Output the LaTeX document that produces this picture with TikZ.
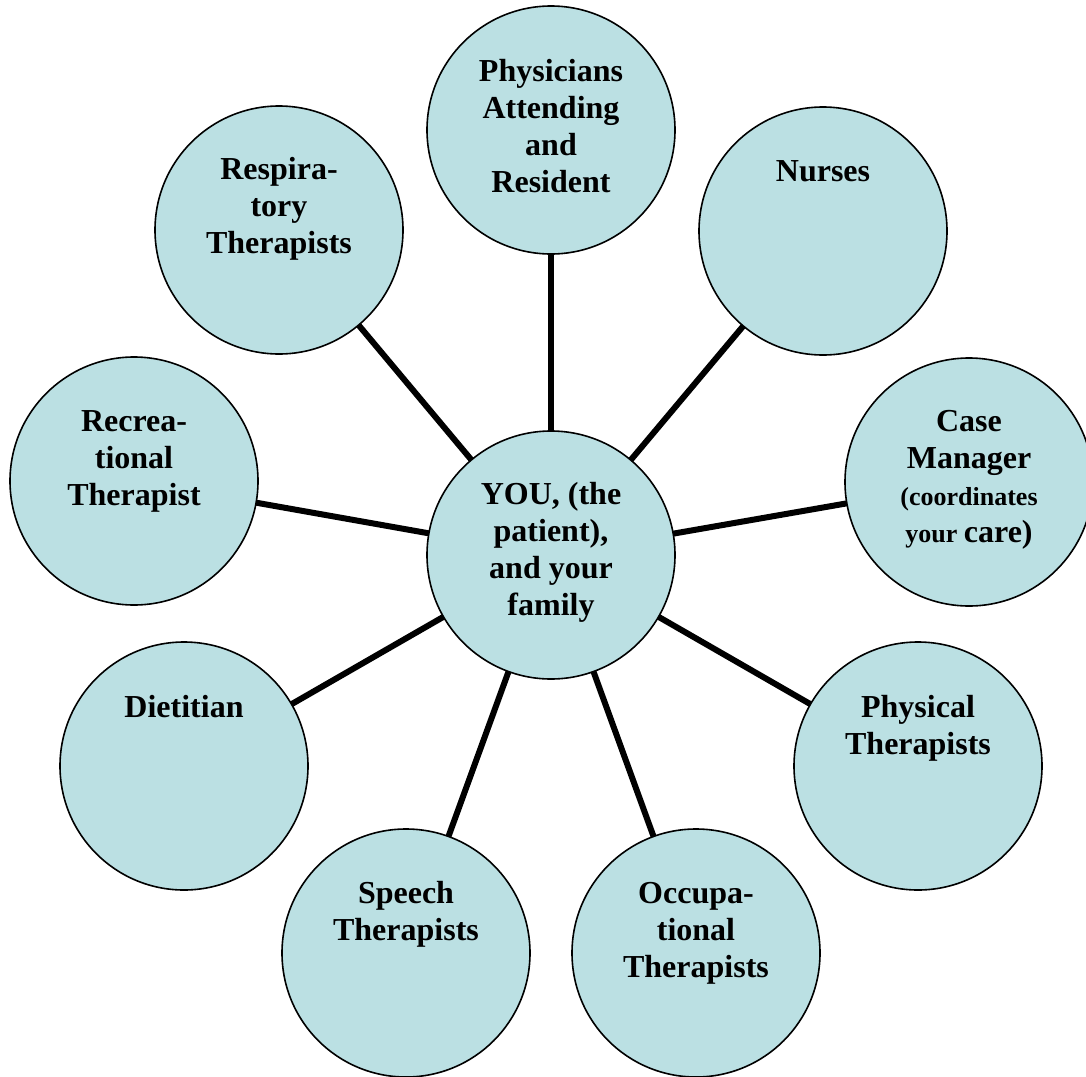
\documentclass[tikz,border=0pt]{standalone}
\usepackage{fontspec}
\setmainfont{Liberation Serif}
\usetikzlibrary{backgrounds}
\definecolor{bubble}{HTML}{BBE0E3}
\newcommand\smallpart{\fontsize{26}{37}\selectfont}
\newcommand\largepart{\fontsize{32}{37}\selectfont}
\begin{document}
\begin{tikzpicture}[x=1pt,y=-1pt,
  member/.style={circle, draw=black, line width=1.6pt, fill=bubble, minimum size=248pt, inner sep=0pt},
  link/.style={line width=6pt, black},
  lbl/.style={anchor=north, inner sep=0pt, align=center, font=\fontsize{32}{37}\bfseries\selectfont}]
\useasboundingbox (0,0) rectangle (1086,1076);

% circles
\node[member] (you)   at (551,555) {};
\node[member] (phys)  at (551,130) {};
\node[member] (nurse) at (823,231) {};
\node[member] (case)  at (969,482) {};
\node[member] (pt)    at (918,766) {};
\node[member] (ot)    at (696,953) {};
\node[member] (st)    at (406,953) {};
\node[member] (diet)  at (184,766) {};
\node[member] (rec)   at (134,481) {};
\node[member] (resp)  at (279,230) {};

% spokes from the centre to every team member
\begin{pgfonlayer}{background}
  \foreach \m in {phys,nurse,case,pt,ot,st,diet,rec,resp}
    \draw[link] (you.center) -- (\m.center);
\end{pgfonlayer}

% labels (north anchor = first baseline minus strut height)
\node[lbl] (you-t)   at (551,504-25.9) {\strut YOU, (the\\patient),\\and your\\family};
\node[lbl] (phys-t)  at (551,81-25.9)  {\strut Physicians\\Attending\\and\\Resident};
\node[lbl] (nurse-t) at (823,181-25.9) {\strut Nurses};
\node[lbl] (case-t)  at (969,431-25.9) {\strut Case\\Manager\\\smallpart(coordinates\\\smallpart your \largepart care)};
\node[lbl] (pt-t)    at (918,717-25.9) {\strut Physical\\Therapists};
\node[lbl] (ot-t)    at (696,903-25.9) {\strut Occupa-\\tional\\Therapists};
\node[lbl] (st-t)    at (406,903-25.9) {\strut Speech\\Therapists};
\node[lbl] (diet-t)  at (184,717-25.9) {\strut Dietitian};
\node[lbl] (rec-t)   at (134,431-25.9) {\strut Recrea-\\tional\\Therapist};
\node[lbl] (resp-t)  at (279,179-25.9) {\strut Respira-\\tory\\Therapists};
\end{tikzpicture}
\end{document}
